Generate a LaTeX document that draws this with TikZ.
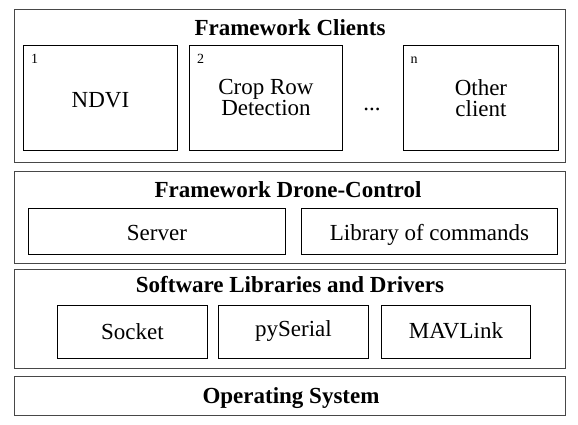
\documentclass[tikz,border=0pt]{standalone}
\usepackage{fontspec}
\setmainfont{Liberation Serif}
\begin{document}
\begin{tikzpicture}[x=1pt,y=-1pt,
  layer/.style={draw=black!72, line width=1pt, rectangle, inner sep=0pt, anchor=north west},
  item/.style={draw=black, line width=0.9pt, rectangle, inner sep=0pt, anchor=north west, font=\fontsize{23}{21}\selectfont, align=center},
  bl/.style={text height=#1, text depth=0pt},
  ttl/.style={font=\fontsize{23}{25}\selectfont\bfseries, inner sep=0pt, anchor=base},
  num/.style={font=\fontsize{14}{16}\selectfont, inner sep=0pt, anchor=base}]
\useasboundingbox (0,0) rectangle (578,424);
% layers
\node[layer, minimum width=551pt, minimum height=153pt] (clients) at (14,9) {};
\node[layer, minimum width=551pt, minimum height=92pt] (control) at (14,171) {};
\node[layer, minimum width=551pt, minimum height=99pt] (libs) at (14,269) {};
\node[layer, minimum width=551pt, minimum height=39pt] (os) at (14,376) {};
% titles
\node[ttl] (tclients) at (290,35) {Framework Clients};
\node[ttl] (tcontrol) at (288,197) {Framework Drone-Control};
\node[ttl] (tlibs) at (290,292) {Software Libraries and Drivers};
\node[ttl] (tos) at (291,403) {Operating System};
% clients
\node[item, bl=19pt, minimum width=154pt, minimum height=105pt] (ndvi) at (23,45) {NDVI};
\node[item, minimum width=153pt, minimum height=105pt] (crop) at (189,45) {Crop Row\\Detection};
\node[item, minimum width=155pt, minimum height=105pt] (other) at (403,45) {Other\\client};
\node[num] (n1) at (34.5,63) {1};
\node[num] (n2) at (200.5,63) {2};
\node[num] (nn) at (414,63) {n};
\node[font=\fontsize{23}{25}\selectfont, inner sep=0pt, anchor=base] (dots) at (372,110) {...};
% control
\node[item, bl=18pt, minimum width=257pt, minimum height=46pt] (server) at (28,208) {Server};
\node[item, bl=18pt, minimum width=256pt, minimum height=46pt] (library) at (301,208) {Library of commands};
% libs
\node[item, bl=15pt, minimum width=150pt, minimum height=53pt] (socket) at (57,305) {Socket};
\node[item, bl=9pt, minimum width=150pt, minimum height=53pt] (pyserial) at (218,305) {pySerial};
\node[item, bl=13pt, minimum width=149pt, minimum height=53pt] (mavlink) at (381,305) {MAVLink};
\end{tikzpicture}
\end{document}
